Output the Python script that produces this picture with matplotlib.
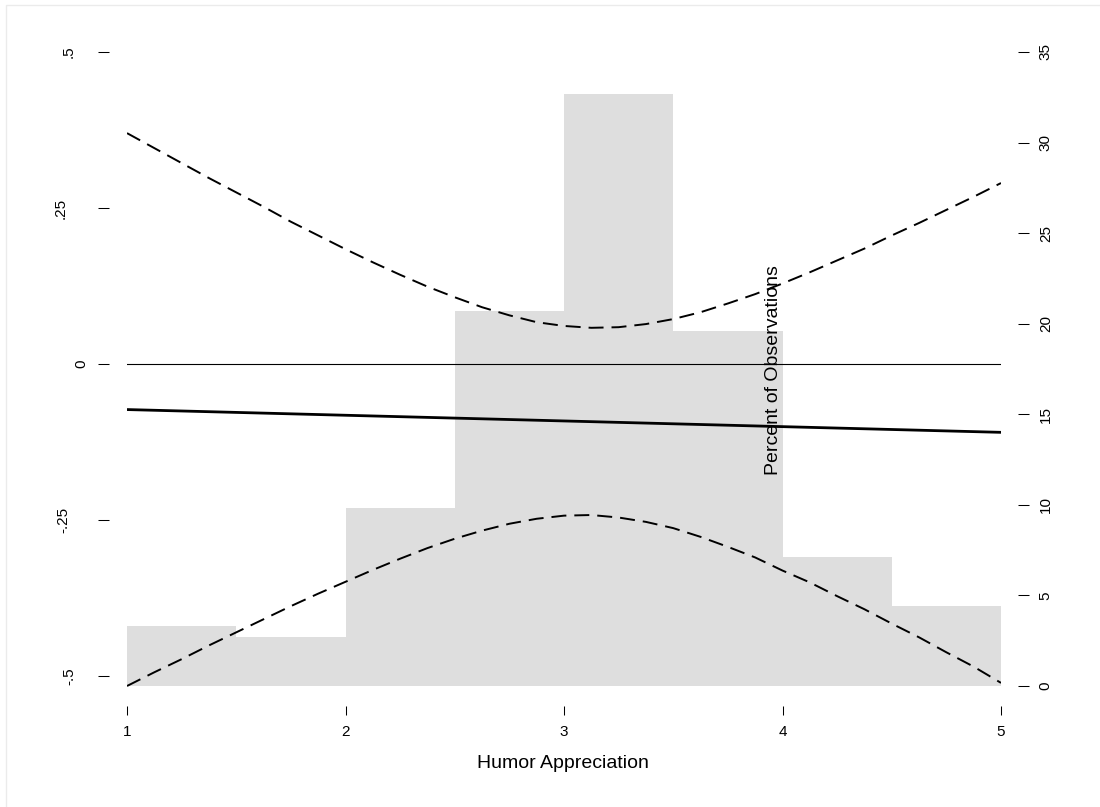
"""Marginal effect of humor appreciation with histogram of observations"""
import matplotlib
matplotlib.use("Agg")
from matplotlib import pyplot as plt
from matplotlib.lines import Line2D

plt.rcParams["font.family"] = ["Liberation Sans", "DejaVu Sans"]

# histogram of the moderator (percent of observations per 0.5 bin)
bin_edges = [1.0, 1.5, 2.0, 2.5, 3.0, 3.5, 4.0, 4.5, 5.0]
bin_pct = [3.3, 2.7, 9.8, 20.7, 32.7, 19.6, 7.1, 4.4]

# marginal effect and its confidence band
est_x = [1.0, 5.0]
est_y = [-0.073, -0.1095]
band_x = [1.0, 1.125, 1.25, 1.375, 1.5, 1.625, 1.75, 1.875, 2.0,
          2.125, 2.25, 2.375, 2.5, 2.625, 2.75, 2.875, 3.0,
          3.125, 3.25, 3.375, 3.5, 3.625, 3.75, 3.875, 4.0,
          4.125, 4.25, 4.375, 4.5, 4.625, 4.75, 4.875, 5.0]
band_upper = [0.370, 0.346, 0.322, 0.298, 0.275, 0.252, 0.228, 0.206, 0.184,
              0.163, 0.143, 0.124, 0.107, 0.091, 0.078, 0.067, 0.061,
              0.058, 0.059, 0.064, 0.072, 0.083, 0.097, 0.112, 0.129,
              0.147, 0.166, 0.185, 0.206, 0.226, 0.247, 0.268, 0.290]
band_lower = [-0.516, -0.494, -0.473, -0.451, -0.430, -0.409, -0.388, -0.368, -0.349,
              -0.330, -0.312, -0.295, -0.280, -0.267, -0.256, -0.248, -0.243,
              -0.242, -0.246, -0.253, -0.263, -0.277, -0.293, -0.310, -0.331,
              -0.350, -0.372, -0.393, -0.416, -0.438, -0.462, -0.485, -0.511]

x_ticks = [1, 2, 3, 4, 5]
left_ticks = [-0.5, -0.25, 0, 0.25, 0.5]
left_labels = ["-.5", "-.25", "0", ".25", ".5"]
right_ticks = [0, 5, 10, 15, 20, 25, 30, 35]

fig = plt.figure(figsize=(11, 8.07), dpi=100)
ax = fig.add_axes([127 / 1100, 120 / 807, 874 / 1100, 635 / 807])
ax2 = ax.twinx()

# histogram behind the lines
widths = [b - a for a, b in zip(bin_edges[:-1], bin_edges[1:])]
ax2.bar(bin_edges[:-1], bin_pct, width=widths, align="edge",
        color="#dedede", edgecolor="none", linewidth=0)
ax2.set_ylim(-0.055, 35)
ax.set_zorder(ax2.get_zorder() + 1)
ax.patch.set_visible(False)

ax.axhline(0, xmin=0, xmax=1, color="black", lw=0.8)
ax.plot(est_x, est_y, color="black", lw=2.0, solid_capstyle="butt")
ax.plot(band_x, band_upper, color="black", lw=1.4, ls=(0, (7.7, 4.1)))
ax.plot(band_x, band_lower, color="black", lw=1.4, ls=(0, (7.7, 4.1)))

ax.set_xlim(1, 5)
ax.set_ylim(-0.5176, 0.5)

for a in (ax, ax2):
    for s in a.spines.values():
        s.set_visible(False)

ax.spines["bottom"].set_position(("outward", 13.7))
ax.spines["left"].set_position(("outward", 13))
ax2.spines["right"].set_position(("outward", 12.2))

ax.set_xticks(x_ticks)
ax.set_xticklabels([str(v) for v in x_ticks])
ax.tick_params(axis="x", length=6.5, width=0.75, pad=7, labelsize=11, colors="black")
ax.set_yticks(left_ticks)
ax.tick_params(axis="y", length=7.7, width=0.75, labelleft=False)

# left labels sit at different distances, as in the original
label_center_px = {"-.5": 69, "-.25": 63, "0": 81.5, ".25": 61, ".5": 69}
for v, lab in zip(left_ticks, left_labels):
    ax.annotate(lab, xy=(0, v), xycoords=("axes fraction", "data"),
                xytext=(label_center_px[lab] - 127, 0), textcoords="offset pixels",
                rotation=90, ha="center", va="center", fontsize=11)

ax2.set_yticks(right_ticks)
ax2.tick_params(axis="y", length=8, width=0.75, pad=7, labelsize=11)
plt.setp(ax2.get_yticklabels(), rotation=90, va="center")

fig.text(563 / 1100, 1 - 763 / 807, "Humor Appreciation",
         ha="center", va="center", fontsize=14)
ax.text(4.0, -0.0104, "Percent of Observations", rotation=90,
        ha="right", va="center", fontsize=14)

# faint frame edge at the top-left of the image
fig.add_artist(Line2D([6 / 1100, 6 / 1100, 1.0], [0.0, 1 - 5 / 807, 1 - 5 / 807],
                      transform=fig.transFigure, color="#ebebeb", lw=1))

plt.savefig("out.png", dpi=100)
plt.close()
